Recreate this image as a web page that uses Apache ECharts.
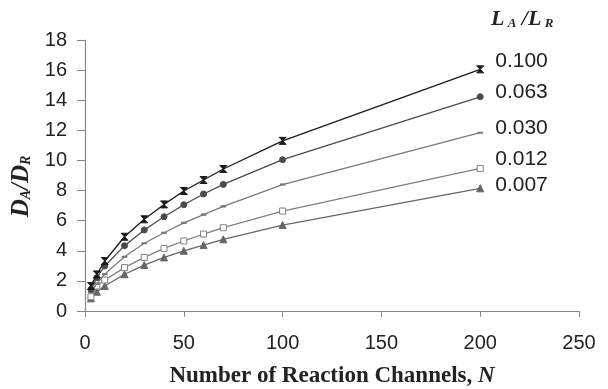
<!DOCTYPE html>
<html>
<head>
<meta charset="utf-8">
<script src="https://cdn.jsdelivr.net/npm/echarts@6/dist/echarts.min.js"></script>
<style>html,body{margin:0;padding:0;background:#fff}#c{width:608px;height:389px}</style>
</head>
<body>
<div id="c"></div>
<script>
var N = [3, 6, 10, 20, 30, 40, 50, 60, 70, 100, 200];
var names = ['0.100', '0.063', '0.030', '0.012', '0.007'];
var s100 = [1.66, 2.43, 3.32, 4.93, 6.09, 7.08, 7.97, 8.70, 9.43, 11.30, 16.05];
var s063 = [1.44, 2.21, 2.99, 4.34, 5.38, 6.26, 7.06, 7.77, 8.41, 10.05, 14.23];
var s030 = [1.25, 1.80, 2.45, 3.60, 4.50, 5.20, 5.85, 6.40, 6.95, 8.40, 11.84];
var s012 = [0.95, 1.66, 2.06, 2.88, 3.56, 4.16, 4.65, 5.11, 5.53, 6.64, 9.47];
var s007 = [0.84, 1.28, 1.66, 2.44, 3.05, 3.56, 4.00, 4.38, 4.76, 5.71, 8.15];
var yTicks = [0, 2, 4, 6, 8, 10, 12, 14, 16, 18];
var xTicks = [0, 50, 100, 150, 200, 250];

function pairs(v){ return N.map(function(x,i){ return [x, v[i]]; }); }

var serif = 'Liberation Serif, Times New Roman, serif';
var sans = 'Liberation Sans, Arial, sans-serif';

var styles = [
  {data:s100, color:'#1a1a1a', symbol:'path://M0,0L10,0L0,10L10,10Z', size:7, fill:'#1a1a1a', off:[0,-8]},
  {data:s063, color:'#4a4a4a', symbol:'circle', size:6, fill:'#4a4a4a', off:[0,-5]},
  {data:s030, color:'#7a7a7a', symbol:'rect', size:[4,1.5], fill:'#7a7a7a', off:[0,-5]},
  {data:s012, color:'#808080', symbol:'rect', size:6, fill:'#ffffff', off:[0,-9]},
  {data:s007, color:'#666666', symbol:'triangle', size:7, fill:'#666666', off:[0,-3]}
];

var series = styles.map(function(s, i){
  return {
    type:'line', name:names[i], data:pairs(s.data),
    symbol:s.symbol, symbolSize:s.size, showAllSymbol:true,
    lineStyle:{color:s.color, width:1.3},
    itemStyle:{color:s.fill, borderColor:s.color, borderWidth:1},
    endLabel:{show:true, formatter:names[i], distance:15, offset:s.off,
      fontFamily:sans, fontSize:21, color:'#222'},
    z: 10 - i
  };
});

var chart = echarts.init(document.getElementById('c'), null, {renderer:'canvas'});
chart.setOption({
  animation:false,
  backgroundColor:'#fff',
  grid:{left:85, right:29, top:40, bottom:78, containLabel:false, outerBoundsMode:'none'},
  xAxis:{
    type:'value', min:xTicks[0], max:xTicks[xTicks.length-1], interval:50,
    splitLine:{show:false},
    axisLine:{lineStyle:{color:'#888', width:1.2}},
    axisTick:{show:true, length:6, lineStyle:{color:'#888'}},
    axisLabel:{fontFamily:sans, fontSize:20, color:'#222', margin:22},
    name:'{b|Number of Reaction Channels, }{i|N}', nameLocation:'middle', nameGap:54,
    nameTextStyle:{rich:{
      b:{fontFamily:serif, fontWeight:'bold', fontSize:23, color:'#222'},
      i:{fontFamily:serif, fontWeight:'bold', fontStyle:'italic', fontSize:23, color:'#222'}
    }}
  },
  yAxis:{
    type:'value', min:yTicks[0], max:yTicks[yTicks.length-1], interval:2,
    splitLine:{show:false},
    axisLine:{show:true, lineStyle:{color:'#888', width:1.2}},
    axisTick:{show:true, length:8, lineStyle:{color:'#888'}},
    axisLabel:{fontFamily:sans, fontSize:20, color:'#222', margin:18},
    name:'{d|D}{s|A}{d|/D}{s|R}', nameLocation:'middle', nameGap:42, nameRotate:90,
    nameTextStyle:{padding:[0,22,0,0], rich:{
      d:{fontFamily:serif, fontWeight:'bold', fontStyle:'italic', fontSize:25, color:'#222', verticalAlign:'bottom', lineHeight:28},
      s:{fontFamily:serif, fontWeight:'bold', fontStyle:'italic', fontSize:14, color:'#222', verticalAlign:'bottom', lineHeight:18}
    }}
  },
  graphic:[{
    type:'text', left:491, top:8,
    style:{
      text:'{d|L}{s| A}{d| /L}{s| R}',
      rich:{
        d:{fontFamily:serif, fontWeight:'bold', fontStyle:'italic', fontSize:22, fill:'#222', verticalAlign:'bottom', lineHeight:26},
        s:{fontFamily:serif, fontWeight:'bold', fontStyle:'italic', fontSize:13, fill:'#222', verticalAlign:'bottom', lineHeight:17}
      }
    }
  }],
  series:series
});
</script>
</body>
</html>
